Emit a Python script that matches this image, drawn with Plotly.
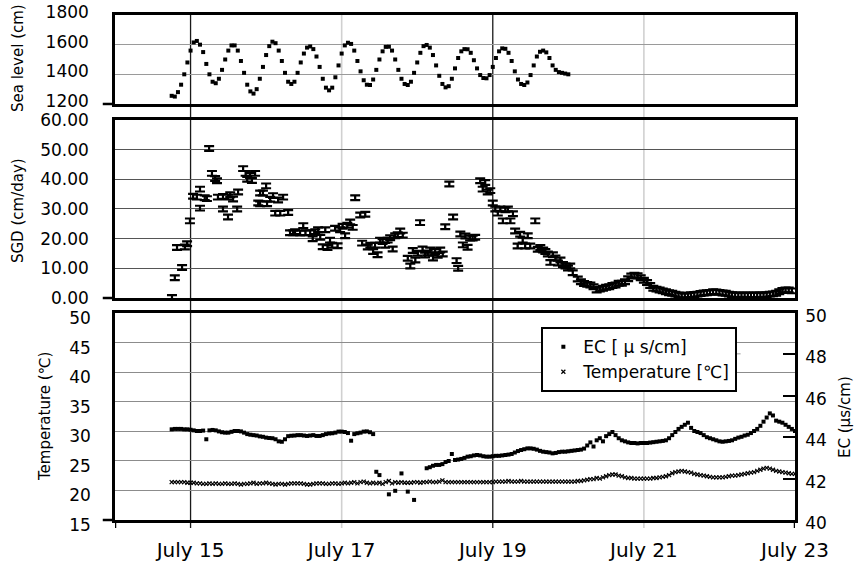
import pandas as pd
import plotly.graph_objects as go

# ---------------------------------------------------------------------------
# Observation record, hours counted from July 14 00:00
# ---------------------------------------------------------------------------
BASE = pd.Timestamp("2013-07-14 00:00")

# Sea level (cm), hourly from hour 18
sea_start_hour = 18
sea_level = [
    1255, 1250, 1280, 1330, 1400, 1480, 1560, 1615, 1625, 1600, 1550, 1470, 1400,
    1350, 1340, 1370, 1430, 1500, 1560, 1595, 1595, 1560, 1490, 1410, 1330, 1285,
    1270, 1300, 1370, 1450, 1530, 1590, 1620, 1610, 1560, 1490, 1410, 1350, 1335,
    1350, 1410, 1480, 1540, 1580, 1588, 1570, 1520, 1450, 1370, 1310, 1292, 1310,
    1380, 1460, 1540, 1595, 1613, 1605, 1560, 1490, 1420, 1360, 1330, 1328, 1365,
    1430, 1500, 1555, 1585, 1586, 1560, 1500, 1430, 1370, 1335, 1328, 1350, 1410,
    1480, 1545, 1590, 1598, 1580, 1530, 1460, 1390, 1335, 1312, 1320, 1370, 1440,
    1510, 1555, 1570, 1569, 1545, 1495, 1440, 1395, 1375, 1373, 1395, 1450, 1510,
    1555, 1575, 1572, 1545, 1490, 1420, 1365, 1335, 1328, 1345, 1395, 1460, 1520,
    1552, 1560, 1548, 1510, 1460, 1430, 1415, 1410, 1405, 1400,
]

# Submarine groundwater discharge (cm/day), irregular samples
sgd_hours = [
    18.1, 19.0, 19.7, 21.3, 22.2, 22.9, 23.8, 24.8, 26.0, 27.0, 27.0, 28.5, 29.2,
    29.9, 30.8, 31.8, 32.4, 32.7, 34.3, 34.3, 35.9, 35.9, 36.6, 37.5, 38.8, 39.1,
    40.7, 41.5, 42.0, 42.9, 43.5, 44.5, 45.5, 46.1, 46.1, 47.0, 48.0, 48.3, 49.3,
    50.2, 50.9, 51.8, 52.5, 53.4, 55.0, 55.6, 56.6, 57.2, 58.8, 59.8, 60.5, 62.0,
    62.8, 63.6, 64.5, 65.2, 66.0, 66.8, 67.5, 68.3, 69.0, 69.9, 70.7, 71.5, 72.3,
    73.1, 73.8, 74.7, 75.5, 76.3, 77.9, 78.5, 79.5, 80.3, 81.1, 82.0, 82.6, 83.4,
    84.2, 85.0, 85.8, 86.6, 87.4, 88.2, 89.0, 89.8, 90.6, 91.4, 93.0, 93.8, 94.6,
    95.4, 96.2, 96.9, 97.7, 98.5, 99.3, 100.1, 101.0, 101.7, 102.5, 103.3, 104.1,
    104.9, 106.2, 107.4, 108.5, 109.0, 109.7, 110.5, 111.3, 112.0, 112.8, 113.6,
    114.4, 116.0, 116.8, 117.6, 118.4, 119.2, 120.0, 120.8, 121.6, 122.4, 123.2,
    124.0, 124.8, 125.6, 126.4, 127.1, 127.9, 128.7, 129.5, 130.3, 131.1, 131.9,
    133.5, 134.3, 135.1, 136.0, 136.7, 137.5, 138.3, 139.1, 139.9, 140.7, 141.5,
    142.3, 143.1, 143.9, 144.6, 145.4, 147.0,
]
sgd_values = [
    0.2, 6.8, 17.0, 10.3, 17.2, 18.3, 26.0, 34.3, 34.0, 36.7, 30.3, 33.8, 33.5,
    50.4, 42.0, 40.3, 39.5, 34.0, 34.2, 30.0, 27.3, 34.0, 34.8, 33.4, 30.0, 35.7,
    43.6, 42.0, 40.0, 41.3, 39.6, 42.0, 32.0, 31.8, 35.4, 35.4, 37.8, 31.8, 33.3,
    34.5, 28.6, 33.0, 28.6, 34.0, 28.8, 22.0, 22.0, 22.3, 21.9, 24.4, 22.0, 22.0,
    20.0, 22.3, 23.0, 20.5, 17.3, 23.0, 17.0, 19.5, 17.8, 23.5, 17.6, 23.0, 24.2,
    21.0, 24.5, 25.6, 23.8, 33.8, 28.0, 18.5, 28.2, 17.2, 17.8, 15.7, 17.8, 14.6,
    19.5, 19.0, 17.8, 19.5, 20.3, 16.5, 21.0, 21.3, 22.6, 21.2, 13.4, 10.8, 16.0,
    12.8, 15.1, 25.4, 16.5, 14.5, 15.2, 16.2, 13.5, 15.7, 14.4, 16.2, 14.8,
    24.0, 38.4, 27.3, 12.6, 10.0, 21.6, 17.9, 20.9, 17.1, 20.2, 20.2,
    20.5, 39.5, 36.7, 38.9, 35.7, 36.2, 32.0, 30.0, 28.6, 30.0, 26.0,
    29.7, 30.0, 26.0, 28.4, 22.6, 17.5, 21.5, 19.5, 17.5, 21.0, 17.5,
    26.0, 16.4, 17.0, 16.2, 15.7, 14.8, 12.0, 14.6, 13.5, 11.8, 12.8,
    11.3, 10.8, 10.1, 10.8, 8.5, 6.4,
]
# Hourly SGD samples from hour 148 onward
sgd_tail_start_hour = 148
sgd_tail_values = [
    5.5, 4.9, 4.6, 4.4, 3.8, 2.7, 3.0, 3.3, 3.6, 3.8, 4.2, 4.4, 5.0, 5.0, 5.5,
    6.5, 7.4, 7.7, 7.5, 6.8, 6.0, 5.2, 4.2, 3.3, 3.0, 2.7, 2.4, 2.1, 1.8, 1.6,
    1.3, 1.0, 0.9, 0.7, 0.9, 1.1, 1.2, 1.3, 1.5, 1.7, 1.8, 1.9, 2.1, 2.0, 1.9,
    1.7, 1.6, 1.3, 1.1, 1.0, 1.0, 0.9, 1.0, 1.0, 0.9, 1.0, 1.0, 1.0, 1.0, 1.1,
    1.3, 1.4, 1.6, 2.1, 2.5, 2.7, 2.7, 2.4,
]
sgd_error = 0.8

# Electric conductivity (uS/cm), hourly segments plus scattered readings
ec_seg1_start_hour = 18
ec_seg1 = [
    44.38, 44.40, 44.40, 44.40, 44.38, 44.38, 44.36, 44.33, 44.30, 44.30, 44.32,
    43.90, 44.33, 44.35, 44.33, 44.28, 44.24, 44.22, 44.22, 44.26, 44.30, 44.30,
    44.28, 44.22, 44.15, 44.12, 44.10, 44.08, 44.04, 44.02, 43.98, 43.96, 43.95,
    43.90, 43.80, 43.78, 43.90, 44.05, 44.07, 44.08, 44.10, 44.10, 44.08, 44.06,
    44.08, 44.10, 44.06, 44.06, 44.10, 44.15, 44.18, 44.19, 44.22, 44.27, 44.27,
    44.25, 44.20, 43.83, 44.15, 44.19, 44.22, 44.27, 44.28, 44.24, 44.15,
]
ec_scatter_hours = [83, 84, 87, 89, 91, 93, 95]
ec_scatter_values = [42.33, 42.17, 41.24, 41.41, 42.25, 41.37, 40.97]
ec_seg2_start_hour = 99
ec_seg2 = [
    42.50, 42.55, 42.62, 42.66, 42.66, 42.70, 42.80, 42.85, 43.19, 42.90, 42.92,
    42.95, 43.00, 43.06, 43.08, 43.12, 43.14, 43.12, 43.08, 43.06, 43.06, 43.08,
    43.10, 43.10, 43.12, 43.14, 43.16, 43.19, 43.26, 43.33, 43.38, 43.42, 43.46,
    43.46, 43.44, 43.40, 43.34, 43.30, 43.28, 43.26, 43.22, 43.24, 43.28, 43.30,
    43.30, 43.32, 43.34, 43.36, 43.38,
]
ec_seg3_start_hour = 148
ec_seg3 = [
    43.40, 43.45, 43.60, 43.75, 43.55, 43.85, 43.95, 43.80, 44.05, 44.15, 44.25,
    44.10, 43.95, 43.85, 43.80, 43.75, 43.72, 43.72, 43.70, 43.72, 43.72, 43.72,
    43.74, 43.76, 43.78, 43.80, 43.82, 43.85, 43.95, 44.10, 44.25, 44.40, 44.50,
    44.60, 44.70, 44.45, 44.30, 44.25, 44.20, 44.10, 44.00, 43.95, 43.90, 43.85,
    43.80, 43.78, 43.80, 43.82, 43.85, 43.92, 43.98, 44.02, 44.08, 44.12, 44.20,
    44.30, 44.40, 44.55, 44.75, 44.95, 45.15, 45.05, 44.80, 44.75, 44.70, 44.60,
    44.50, 44.40, 44.30,
]

# Water temperature (deg C), hourly from hour 18
temp_start_hour = 18
temperature = [
    21.4, 21.4, 21.4, 21.4, 21.4, 21.3, 21.3, 21.3, 21.2, 21.2, 21.1, 21.1, 21.2,
    21.1, 21.2, 21.1, 21.1, 21.2, 21.1, 21.1, 21.2, 21.1, 21.0, 21.1, 21.1, 21.2,
    21.3, 21.1, 21.2, 21.2, 21.3, 21.2, 21.1, 21.0, 21.1, 21.1, 21.0, 21.1, 21.2,
    21.2, 21.2, 21.2, 21.1, 21.0, 21.0, 21.1, 21.2, 21.2, 21.2, 21.1, 21.1, 21.2,
    21.2, 21.1, 21.2, 21.3, 21.2, 21.3, 21.4, 21.2, 21.4, 21.5, 21.3, 21.2, 21.3,
    21.2, 21.3, 21.1, 21.4, 21.6, 21.2, 21.4, 21.3, 21.4, 21.3, 21.3, 21.3, 21.4,
    21.4, 21.3, 21.4, 21.4, 21.5, 21.4, 21.4, 21.5, 21.7, 21.4, 21.4, 21.4, 21.4,
    21.4, 21.4, 21.4, 21.4, 21.4, 21.4, 21.4, 21.4, 21.4, 21.4, 21.4, 21.4, 21.5,
    21.5, 21.5, 21.5, 21.6, 21.5, 21.5, 21.5, 21.6, 21.5, 21.5, 21.5, 21.5, 21.5,
    21.5, 21.5, 21.5, 21.5, 21.5, 21.5, 21.5, 21.5, 21.5, 21.5, 21.5, 21.5, 21.6,
    21.6, 21.7, 21.8, 21.9, 21.9, 22.1, 22.0, 22.2, 22.4, 22.6, 22.7, 22.7, 22.5,
    22.4, 22.2, 22.1, 22.1, 22.0, 22.0, 22.0, 22.0, 22.0, 22.0, 22.1, 22.1, 22.2,
    22.3, 22.4, 22.6, 22.9, 23.1, 23.2, 23.3, 23.2, 23.1, 23.0, 22.8, 22.7, 22.6,
    22.5, 22.4, 22.3, 22.2, 22.2, 22.2, 22.2, 22.3, 22.4, 22.5, 22.5, 22.6, 22.7,
    22.8, 22.9, 23.0, 23.1, 23.3, 23.5, 23.7, 23.8, 23.7, 23.5, 23.3, 23.2, 23.1,
    23.0, 22.9, 22.8, 22.8,
]

# Axis settings
x_tick_days = [15, 17, 19, 21, 23]
x_tick_labels = ["July 15", "July 17", "July 19", "July 21", "July 23"]
x_strong_days = [15, 19]
sea_ticks = [1200, 1400, 1600, 1800]
sgd_ticks = [0, 10, 20, 30, 40, 50, 60]
temp_ticks = [15, 20, 25, 30, 35, 40, 45, 50]
ec_ticks = [40, 42, 44, 46, 48, 50]


def at_hours(hours):
    return [BASE + pd.Timedelta(hours=h) for h in hours]


def hourly(start, values):
    return at_hours(range(start, start + len(values)))


def day(d):
    return BASE + pd.Timedelta(days=d - 14)


FONT = "DejaVu Sans"
fig = go.Figure()

fig.add_trace(go.Scatter(
    x=hourly(sea_start_hour, sea_level), y=sea_level, mode="markers",
    marker=dict(symbol="square", size=4, color="black"),
    xaxis="x", yaxis="y", showlegend=False, name="Sea level",
))

sgd_x = at_hours(sgd_hours) + hourly(sgd_tail_start_hour, sgd_tail_values)
sgd_y = sgd_values + sgd_tail_values
fig.add_trace(go.Scatter(
    x=sgd_x, y=sgd_y, mode="markers",
    marker=dict(symbol="line-ns", size=4, color="black",
                line=dict(width=1.5, color="black")),
    error_y=dict(type="constant", value=sgd_error, width=5, thickness=2.2,
                 color="black"),
    xaxis="x2", yaxis="y2", showlegend=False, name="SGD",
))

ec_x = (hourly(ec_seg1_start_hour, ec_seg1) + at_hours(ec_scatter_hours)
        + hourly(ec_seg2_start_hour, ec_seg2) + hourly(ec_seg3_start_hour, ec_seg3))
ec_y = ec_seg1 + ec_scatter_values + ec_seg2 + ec_seg3
fig.add_trace(go.Scatter(
    x=ec_x, y=ec_y, mode="markers",
    marker=dict(symbol="square", size=4, color="black"),
    xaxis="x3", yaxis="y4", name="EC [ \u03bc s/cm]",
))
fig.add_trace(go.Scatter(
    x=hourly(temp_start_hour, temperature), y=temperature, mode="markers",
    marker=dict(symbol="x-thin", size=4, color="black",
                line=dict(width=1.2, color="black")),
    xaxis="x3", yaxis="y3", name="Temperature [\u2103]",
))

# Panel geometry (paper fractions)
dom_top = [0.8238, 1.0]
dom_mid = [0.4396, 0.7921]
dom_bot = [0.0, 0.4099]
x_range = [day(14), day(23)]

axis_common = dict(showline=True, linewidth=2.5, linecolor="black", mirror=True,
                   zeroline=False, ticks="", automargin=False,
                   tickfont=dict(family=FONT, size=17, color="black"))
xcommon = dict(axis_common, type="date", range=x_range, showgrid=False,
               tickvals=[day(d) for d in x_tick_days], ticktext=x_tick_labels)

fig.update_layout(
    width=865, height=563,
    margin=dict(l=115, r=70, t=15, b=43, autoexpand=False),
    paper_bgcolor="white", plot_bgcolor="white",
    font=dict(family=FONT, color="black"),
    xaxis=dict(xcommon, anchor="y", showticklabels=False),
    xaxis2=dict(xcommon, anchor="y2", showticklabels=False),
    xaxis3=dict(xcommon, anchor="y3", ticklabelstandoff=10,
                tickfont=dict(family=FONT, size=20, color="black")),
    yaxis=dict(axis_common, domain=dom_top, range=[1200, 1800], tickvals=sea_ticks,
               showgrid=True, gridcolor="#9a9a9a", gridwidth=1,
               ticklabelstandoff=20, ticklabelshift=-3),
    yaxis2=dict(axis_common, domain=dom_mid, range=[0, 60], tickvals=sgd_ticks,
                tickformat=".2f", showgrid=True, gridcolor="#555555", gridwidth=1,
                ticklabelstandoff=20, ticklabelshift=0),
    yaxis3=dict(axis_common, domain=dom_bot, range=[15, 50], tickvals=temp_ticks,
                showgrid=True, gridcolor="#8c8c8c", gridwidth=1,
                ticklabelstandoff=18, ticklabelshift=5),
    yaxis4=dict(axis_common, overlaying="y3", side="right", anchor="x3",
                range=[40, 50], tickvals=ec_ticks, showgrid=False, mirror=False,
                ticks="inside", ticklen=12, tickwidth=2, tickcolor="black",
                ticklabelstandoff=4, ticklabelshift=3),
    legend=dict(x=0.627, y=0.382, xanchor="left", yanchor="top",
                bordercolor="black", borderwidth=2, bgcolor="white",
                font=dict(family=FONT, size=17, color="black"),
                tracegroupgap=0, itemwidth=30),
)

# Day lines running through all panels and just past the bottom axis
shapes = []
for d in x_tick_days[:-1]:
    strong = d in x_strong_days
    shapes.append(dict(type="line", xref="x3", yref="paper", x0=day(d), x1=day(d),
                       y0=-0.016, y1=1.0, layer="below",
                       line=dict(color="#1a1a1a" if strong else "#d0d0d0",
                                 width=1.3 if strong else 1.6)))
for d in (14, 23):
    shapes.append(dict(type="line", xref="x3", yref="paper", x0=day(d), x1=day(d),
                       y0=-0.016, y1=0.0, line=dict(color="black", width=2.5)))
# Short extensions of each panel's bottom axis to the left
for dom in (dom_top, dom_mid, dom_bot):
    shapes.append(dict(type="line", xref="paper", yref="paper", x0=-0.018, x1=0,
                       y0=dom[0], y1=dom[0], line=dict(color="black", width=2.5)))
# Divider between the two legend rows
shapes.append(dict(type="line", xref="paper", yref="paper", x0=0.633, x1=0.92,
                   y0=0.329, y1=0.329, line=dict(color="#9a9a9a", width=1)))
fig.update_layout(shapes=shapes)

title_font = dict(family=FONT, size=15, color="black")
for text, xp, yp in [
    ("Sea level (cm)", -0.1426, 0.9149),
    ("SGD (cm/day)", -0.1426, 0.6119),
    ("Temperature (\u2103)", -0.1029, 0.204),
    ("EC (\u03bcs/cm)", 1.0735, 0.204),
]:
    fig.add_annotation(text=text, x=xp, y=yp, xref="paper", yref="paper",
                       textangle=-90, showarrow=False, font=title_font,
                       xanchor="center", yanchor="middle")

fig.write_html("out.html")
